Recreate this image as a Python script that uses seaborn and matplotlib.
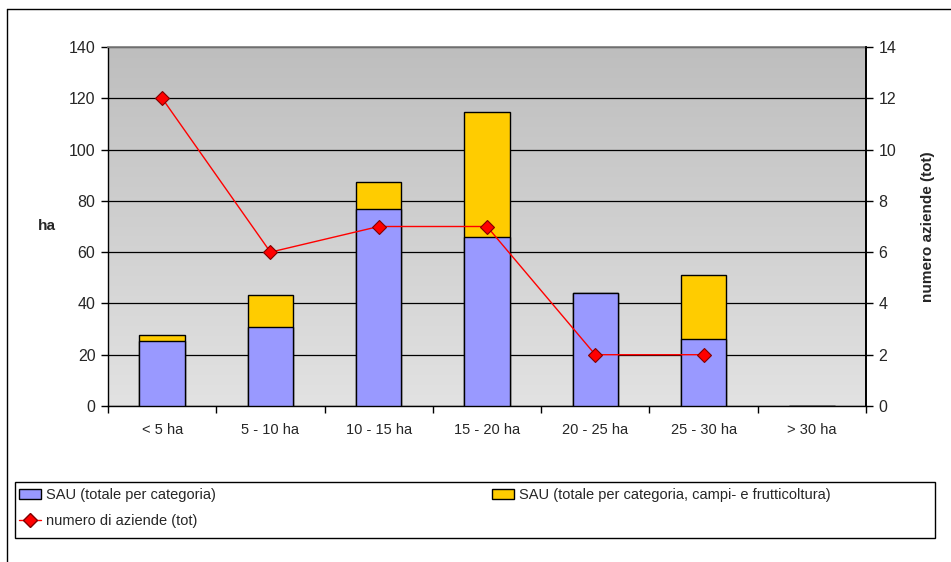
import numpy as np
import pandas as pd
import matplotlib
matplotlib.use("Agg")
import matplotlib.pyplot as plt
from matplotlib.lines import Line2D
from matplotlib.patches import Patch, Rectangle
import seaborn as sns

categories = ["< 5 ha", "5 - 10 ha", "10 - 15 ha", "15 - 20 ha", "20 - 25 ha", "25 - 30 ha", "> 30 ha"]
sau_totale = [25.3, 30.8, 76.8, 66.0, 44.1, 26.1, 0]
sau_campi = [2.2, 12.6, 10.7, 48.6, 0, 25.0, 0]
numero_aziende = [12, 6, 7, 7, 2, 2, np.nan]

sns.set_theme(style="white")
plt.rcParams["font.family"] = ["Liberation Sans", "DejaVu Sans"]

df = pd.DataFrame({"cat": categories, "blue": sau_totale,
                   "total": np.array(sau_totale) + np.array(sau_campi)})

W, H = 951, 562
fig = plt.figure(figsize=(W/100, H/100), dpi=100)
ax = fig.add_axes([108/W, 1-406/H, (866-108)/W, (406-47)/H])

# gradient background (lighter at bottom, darker at top)
grad = np.linspace(0, 1, 256).reshape(-1, 1)
cmap = matplotlib.colors.LinearSegmentedColormap.from_list("bg", ["#e2e2e2", "#bebebe"])
ax.imshow(grad, cmap=cmap, aspect="auto", extent=[-0.5, len(categories)-0.5, 0, 140],
          zorder=0, origin="lower")
ax.set_facecolor("none")

sns.barplot(data=df, x="cat", y="total", color="#ffcc00", saturation=1, width=0.42,
            edgecolor="black", linewidth=1, ax=ax, zorder=3)
sns.barplot(data=df, x="cat", y="blue", color="#9999ff", saturation=1, width=0.42,
            edgecolor="black", linewidth=1, ax=ax, zorder=4)

ax.set_xlim(-0.5, len(categories)-0.5)
ax.set_ylim(0, 140)
ax.set_yticks(np.arange(0, 141, 20))
ax.yaxis.grid(True, color="black", linewidth=0.9)
ax.set_axisbelow(True)
for g in ax.get_ygridlines():
    g.set_zorder(1)
ax.set_xlabel("")
ax.set_ylabel("ha", fontsize=11, fontweight="bold", rotation=0, labelpad=16, va="center")
ax.tick_params(axis="y", which="major", length=5, width=1, color="black", labelsize=11.5,
               direction="out", left=True, pad=4)
ax.tick_params(axis="x", which="major", length=0, labelsize=10.5, pad=12)
ax.set_xticks(np.arange(-0.5, len(categories)), minor=True)
ax.tick_params(axis="x", which="minor", length=5, width=1, color="black", direction="out", bottom=True)
for s in ["left", "bottom"]:
    ax.spines[s].set_color("black")
    ax.spines[s].set_linewidth(1)
ax.spines["top"].set_color("#808080")
ax.spines["right"].set_color("black")

ax2 = ax.twinx()
ld = pd.DataFrame({"pos": np.arange(len(categories)), "n": numero_aziende})
sns.lineplot(data=ld, x="pos", y="n", ax=ax2, color="#ff0000", linewidth=1,
             marker="D", markersize=7, markerfacecolor="#ff0000",
             markeredgecolor="#800000", markeredgewidth=0.8, zorder=5)
ax2.set_ylim(0, 14)
ax2.set_yticks(np.arange(0, 15, 2))
ax2.set_ylabel("numero aziende (tot)", fontsize=11, fontweight="bold", labelpad=18)
ax2.tick_params(axis="y", length=5, width=1, color="black", labelsize=11.5, direction="out", right=True, pad=4)
ax2.set_xlim(-0.5, len(categories)-0.5)
for s in ax2.spines.values():
    s.set_visible(False)
ax2.spines["right"].set_visible(True)
ax2.spines["right"].set_color("black")
ax2.grid(False)

# legend box
fig.add_artist(Rectangle((15/W, 1-538/H), 920/W, 56/H, transform=fig.transFigure,
                         facecolor="white", edgecolor="black", linewidth=1, zorder=1))
blue_h = Patch(facecolor="#9999ff", edgecolor="black", linewidth=1)
yel_h = Patch(facecolor="#ffcc00", edgecolor="black", linewidth=1)
line_h = Line2D([], [], color="#ff0000", marker="D", markersize=7, markerfacecolor="#ff0000",
                markeredgecolor="#800000", linewidth=1)
common = dict(loc="upper left", fontsize=10.5, frameon=False, borderaxespad=0, borderpad=0,
              handlelength=1.5, handletextpad=0.35, labelspacing=0.85)
leg1 = fig.legend([blue_h, line_h], ["SAU (totale per categoria)", "numero di aziende (tot)"],
                  bbox_to_anchor=(19/W, 1-488/H), **common)
leg2 = fig.legend([yel_h], ["SAU (totale per categoria, campi- e frutticoltura)"],
                  bbox_to_anchor=(492/W, 1-488/H), **common)
for lg in (leg1, leg2):
    lg.set_zorder(2)

# outer chart border
fig.add_artist(Line2D([7/W, 7/W], [0, 1-9/H], color="black", linewidth=1, transform=fig.transFigure))
fig.add_artist(Line2D([7/W, 1], [1-9/H, 1-9/H], color="black", linewidth=1, transform=fig.transFigure))

fig.savefig("out.png", dpi=100)
